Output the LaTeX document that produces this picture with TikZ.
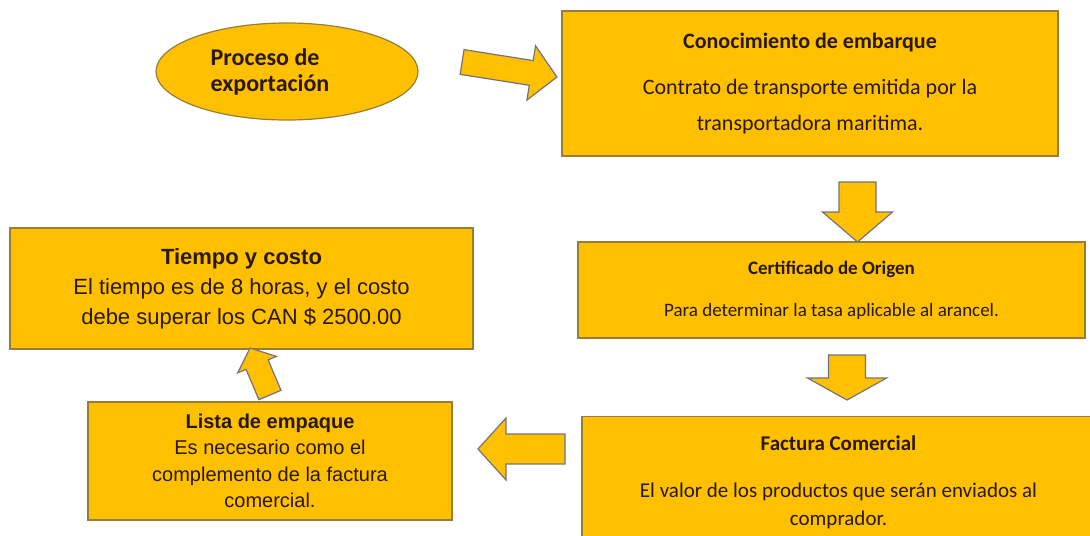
\documentclass[tikz,border=0pt]{standalone}
\usepackage{fontspec}
\setmainfont{Carlito}
\newfontfamily\arialfont{Liberation Sans}
\usetikzlibrary{positioning,shapes.geometric}
\definecolor{gold}{RGB}{255,192,0}
\definecolor{goldline}{RGB}{150,125,60}
\definecolor{arrowline}{RGB}{115,115,125}
\definecolor{darktext}{RGB}{40,25,0}

\tikzset{
  pics/blockarrow/.style args={#1/#2/#3/#4}{code={
    \filldraw[fill=gold, draw=arrowline, line width=0.6pt, line join=miter]
      (-#1/2,#2/2) -- (#1/2-#4,#2/2) -- (#1/2-#4,#3/2) -- (#1/2,0)
      -- (#1/2-#4,-#3/2) -- (#1/2-#4,-#2/2) -- (-#1/2,-#2/2) -- cycle;
  }}
}

\begin{document}
\begin{tikzpicture}[x=0.5pt, y=-0.5pt,
    box/.style={draw=goldline, fill=gold, line width=0.6pt, inner sep=0pt,
                align=center, text=darktext},
    every node/.style={font=\fontsize{11}{13.6}\selectfont}]
    \useasboundingbox (0,0) rectangle (1090,535);
    \fill[white] (0,0) rectangle (1090,535);
    \clip (0,0) rectangle (1090,535);

    % start
    \node[box, ellipse, minimum width=131pt, minimum height=48.5pt, align=left,
          font=\fontsize{12}{13}\selectfont\bfseries] (start) at (287,71.5)
      {Proceso de\\exportación\hspace*{17pt}};

    % documentos
    \node[box, minimum width=248pt, minimum height=72.5pt] (conoc) at (810,83.5)
      {\textbf{Conocimiento de embarque}\\[9.5pt]
       Contrato de transporte emitida por la\\[4.5pt]
       transportadora maritima.};
    \node[box, minimum width=253.5pt, minimum height=48pt,
          font=\fontsize{9.5}{11.5}\selectfont] (certif) at (831.5,290)
      {\textbf{Certificado de Origen}\\[9.5pt]
       Para determinar la tasa aplicable al arancel.};
    \node[box, minimum width=256.5pt, minimum height=65.5pt,
          font=\fontsize{10.5}{14}\selectfont] (factura) at (838.5,482)
      {\textbf{Factura Comercial}\\[9.5pt]
       El valor de los productos que serán enviados al\\
       comprador.};
    \node[box, minimum width=182pt, minimum height=59pt,
          font=\arialfont\fontsize{10}{13.2}\selectfont] (lista) at (270,461)
      {\textbf{Lista de empaque}\\
       Es necesario como el\\
       complemento de la factura\\
       comercial.};
    \node[box, minimum width=231.5pt, minimum height=60.5pt,
          font=\arialfont\fontsize{11}{15}\selectfont] (tiempo) at (241.5,288.5)
      {\textbf{Tiempo y costo}\\
       El tiempo es de 8 horas, y el costo\\
       debe superar los CAN \$ 2500.00};

    % flechas
    \pic[rotate=-9] (a1) at (509.5,69.5) {blockarrow={96/25/55/26}};
    \pic[rotate=-90] (a2) at (857.5,212) {blockarrow={60/37/70/30}};
    \pic[rotate=-90] (a3) at (847,377.5) {blockarrow={45/37/79/22}};
    \pic[rotate=180] (a4) at (521.5,449) {blockarrow={87/30/62/28}};
    \pic[rotate=113] (a5) at (260,371.5) {blockarrow={51/24/42/18}};
\end{tikzpicture}
\end{document}
